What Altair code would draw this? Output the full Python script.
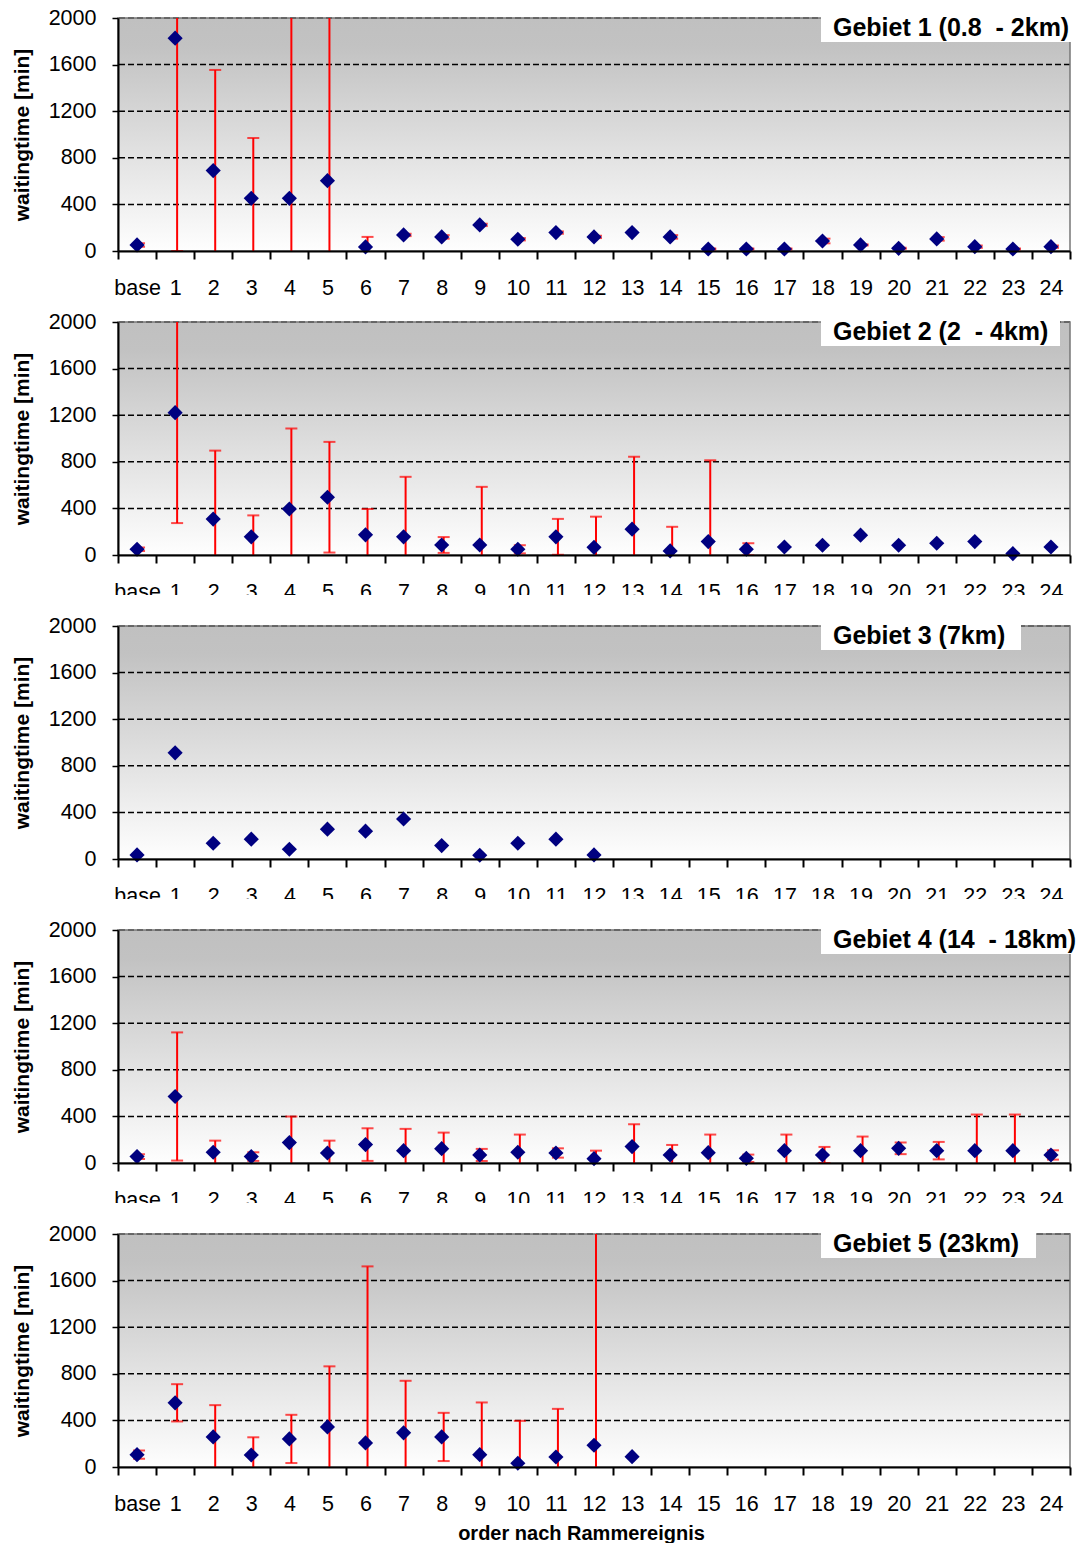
import altair as alt
import pandas as pd

categories = ["base"] + [str(i) for i in range(1, 25)]

titles = [
    "Gebiet 1 (0.8 \u00a0- 2km)",
    "Gebiet 2 (2 \u00a0- 4km)",
    "Gebiet 3 (7km)",
    "Gebiet 4 (14 \u00a0- 18km)",
    "Gebiet 5 (23km)",
]

values_g1 = [52, 1827, 690, 452, 452, 604, 35, 138, 121, 224, 101, 158, 121,
             158, 121, 17, 17, 17, 86, 52, 23, 104, 37, 17, 37]
errors_g1 = [15, 1827, 864, 518, 1700, 1600, 86, 10, 15, 10, 10, 10, 10,
             0, 15, 5, 5, 5, 20, 5, 5, 15, 10, 5, 10]

values_g2 = [49, 1222, 308, 156, 395, 496, 173, 156, 86, 86, 49, 156, 66,
             222, 35, 115, 49, 69, 84, 170, 84, 101, 115, 12, 69]
errors_g2 = [15, 948, 588, 184, 691, 475, 222, 515, 68, 499, 35, 154, 263,
             622, 207, 698, 52, 0, 0, 0, 0, 0, 0, 0, 0]

values_g3 = [35, 911, 135, 170, 84, 256, 239, 343, 115, 32, 135, 170, 35,
             None, None, None, None, None, None, None, None, None, None, None, None]
errors_g3 = [0] * 25

values_g4 = [55, 571, 92, 55, 175, 86, 158, 106, 123, 69, 92, 86, 37,
             141, 69, 89, 40, 106, 69, 106, 126, 106, 106, 106, 69]
errors_g4 = [20, 550, 100, 37, 224, 106, 140, 187, 138, 52, 152, 40, 69,
             192, 86, 155, 32, 138, 69, 121, 50, 75, 310, 310, 40]

values_g5 = [106, 551, 258, 103, 241, 344, 207, 293, 258, 106, 32, 86, 187,
             89, None, None, None, None, None, None, None, None, None, None, None]
errors_g5 = [35, 160, 273, 152, 207, 520, 1515, 447, 207, 448, 364, 413, 2000,
             0, 0, 0, 0, 0, 0, 0, 0, 0, 0, 0, 0]

y_ticks = [0, 400, 800, 1200, 1600, 2000]
grid_lines = [400, 800, 1200, 1600, 2000]

box_right = [960, 942, 903, 960, 918]

W, H = 952, 233
FONT = "Liberation Sans"


def panel(i, vals, errs, show_xtitle, cover):
    rows = []
    for c, v, e in zip(categories, vals, errs):
        if v is None:
            continue
        rows.append({"cat": c, "v": v, "e": e, "lo": v - e, "hi": v + e})
    df = pd.DataFrame(rows)
    dfe = df[df["e"] > 0]

    xscale = alt.Scale(domain=categories, paddingInner=0, paddingOuter=0)
    yscale = alt.Scale(domain=[0, 2000], nice=False)
    xaxis = alt.Axis(
        tickBand="extent", tickSize=8, tickWidth=2, tickColor="black",
        labelAngle=0, labelFontSize=21.5, labelPadding=18.5, labelColor="black",
        labelFont=FONT, domainColor="black", domainWidth=2, zindex=1,
        titleFont=FONT, titleFontSize=20, titleFontWeight="bold",
        titleColor="black", titlePadding=8, titleX=463,
    )
    yaxis = alt.Axis(
        values=y_ticks, format="d", grid=False, tickSize=6, tickWidth=1.5, tickColor="black",
        labelFontSize=21.5, labelPadding=16, labelColor="black", labelFont=FONT,
        domainColor="black", domainWidth=2, zindex=1,
        titleFont=FONT, titleFontSize=21, titleFontWeight="bold",
        titleColor="black", titlePadding=16,
    )
    xt = "order nach Rammereignis" if show_xtitle else None
    X = lambda: alt.X("cat:N", sort=categories, scale=xscale, axis=xaxis, title=xt)
    yt = "waitingtime [min]"

    one = pd.DataFrame({"a": [0]})
    bg = alt.Chart(one).mark_rect(
        fill={"gradient": "linear", "x1": 0, "y1": 0, "x2": 0, "y2": 1,
              "stops": [{"offset": 0, "color": "#c0c0c0"},
                        {"offset": 0.12, "color": "#c2c2c2"},
                        {"offset": 1, "color": "#fefefe"}]}
    ).encode(x=alt.value(0), x2=alt.value("width"), y=alt.value(0), y2=alt.value("height"))

    grid = alt.Chart(pd.DataFrame({"g": grid_lines})).mark_rule(
        color="black", strokeDash=[6, 3], strokeWidth=1.5
    ).encode(y=alt.Y("g:Q", scale=yscale, axis=yaxis, title=yt))

    frame = alt.Chart(one).mark_rect(fillOpacity=0, stroke="#777777", strokeWidth=1.5).encode(
        x=alt.value(0), x2=alt.value("width"), y=alt.value(0), y2=alt.value("height"))

    layers = [bg]
    if cover:
        layers.append(alt.Chart(one).mark_rect(color="white").encode(
            x=alt.value(-100), x2=alt.value(958), y=alt.value(-31), y2=alt.value(-13)))
    layers += [grid, frame]

    if len(dfe):
        rule = alt.Chart(dfe).mark_rule(color="#ff0000", strokeWidth=2, clip=True, xOffset=2).encode(
            x=X(), y=alt.Y("lo:Q", scale=yscale, axis=yaxis, title=yt), y2="hi:Q")
        cap_hi = alt.Chart(dfe).mark_tick(color="#ff0000", size=12, thickness=2, clip=True, xOffset=2).encode(
            x=X(), y=alt.Y("hi:Q", scale=yscale, axis=yaxis, title=yt))
        cap_lo = alt.Chart(dfe).mark_tick(color="#ff0000", size=12, thickness=2, clip=True, xOffset=2).encode(
            x=X(), y=alt.Y("lo:Q", scale=yscale, axis=yaxis, title=yt))
        layers += [rule, cap_hi, cap_lo]

    pts = alt.Chart(df).mark_point(shape="diamond", filled=True, size=230, color="#000080", opacity=1).encode(
        x=X(), y=alt.Y("v:Q", scale=yscale, axis=yaxis, title=yt))
    layers.append(pts)

    tbox = alt.Chart(one).mark_rect(color="white").encode(
        x=alt.value(703), x2=alt.value(box_right[i]), y=alt.value(-6), y2=alt.value(24))
    ttext = alt.Chart(one).mark_text(
        align="left", baseline="alphabetic", fontSize=25, fontWeight="bold", font=FONT, color="black"
    ).encode(x=alt.value(715), y=alt.value(18), text=alt.value(titles[i]))
    layers += [tbox, ttext]

    return alt.layer(*layers).properties(width=W, height=H)


panels = [
    panel(0, values_g1, errors_g1, False, False),
    panel(1, values_g2, errors_g2, False, False),
    panel(2, values_g3, errors_g3, False, True),
    panel(3, values_g4, errors_g4, False, True),
    panel(4, values_g5, errors_g5, True, True),
]

chart = alt.vconcat(*panels, spacing=71, bounds="flush").properties(
    padding={"top": 7, "left": 11, "right": 0, "bottom": 0},
    background="white",
).configure_view(stroke=None)

chart.save("out.html", embed_options={"renderer": "svg", "actions": False})
